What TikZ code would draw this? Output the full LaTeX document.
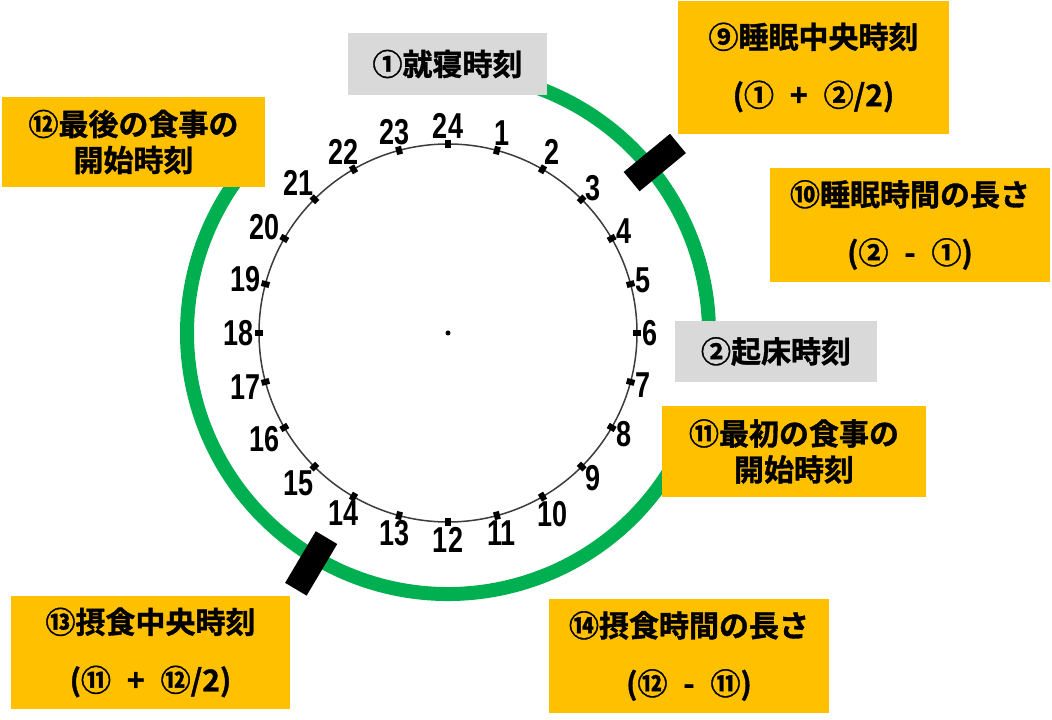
\documentclass[tikz,border=0pt]{standalone}
\usepackage{fontspec}
\newfontfamily\jpfont{Noto Sans CJK JP Bold}[FakeBold=1.2]
\newfontfamily\numfont{Liberation Sans Bold}[FakeStretch=0.75]
\newcommand{\boxfont}{\jpfont\fontsize{30}{36}\selectfont}
\newcommand{\wsp}{\hspace{16pt}}
\definecolor{ringgreen}{HTML}{00B050}
\definecolor{boxorange}{HTML}{FFC000}
\definecolor{boxgray}{HTML}{D9D9D9}
\definecolor{dialgray}{HTML}{3C3C3C}
\begin{document}
\begin{tikzpicture}[x=1pt,y=1pt,
  ring/.style={line width=14pt, draw=ringgreen, line cap=butt},
  dial/.style={draw=dialgray, line width=1.5pt},
  tickmark/.style={fill=black, inner sep=0pt, minimum width=8pt, minimum height=6pt},
  hourlabel/.style={inner sep=0pt, font=\numfont\fontsize{36}{36}\selectfont},
  marker/.style={fill=black, inner sep=0pt, minimum width=60pt, minimum height=25pt},
  labelbox/.style={inner sep=0pt, align=center, font=\boxfont},
  obox/.style={labelbox, fill=boxorange},
  gbox/.style={labelbox, fill=boxgray},
]
\fill[white] (0,0) rectangle (1052,720);
\useasboundingbox (0,0) rectangle (1052,720);

\begin{scope}[shift={(448,387)}]
  % green arcs
  \draw[ring] (100:261) arc[start angle=100, end angle=0, radius=261];
  \draw[ring] (-30:261) arc[start angle=-30, end angle=-220, radius=261];
  % dial
  \draw[dial] (0,0) circle[radius=189];
  \node[circle, fill=black, inner sep=0pt, minimum size=5pt] (centre) at (0,0) {};
  \foreach \h in {1,...,24}{
    \pgfmathtruncatemacro\ang{90-15*\h}
    \pgfmathtruncatemacro\anc{mod(\ang+900,360)}
    \node[tickmark, rotate=\ang] (tick\h) at (\ang:189) {};
    \node[hourlabel, anchor=\anc] (hour\h) at (\ang:194) {\h};
  }
  % markers
  \node[marker, rotate=39.5] (sleepmark) at (39.5:268) {};
  \node[marker, rotate=59.3] (mealmark) at (239.3:268) {};
\end{scope}

% boxes
\node[gbox, minimum width=199pt, minimum height=62pt] (bed) at (447.5,656) {①就寝時刻};
\node[gbox, minimum width=202pt, minimum height=61pt] (wake) at (776,368.5) {②起床時刻};
\node[obox, minimum width=271pt, minimum height=133pt] (sleepmid) at (813.5,652.5) {⑨睡眠中央時刻\\[22pt](①\wsp+\wsp②/2)};
\node[obox, minimum width=280pt, minimum height=114pt] (sleeplen) at (910,495) {⑩睡眠時間の長さ\\[22pt](②\wsp-\wsp①)};
\node[obox, minimum width=264pt, minimum height=91pt] (meal1) at (794,268.5) {⑪最初の食事の\\開始時刻};
\node[obox, minimum width=263pt, minimum height=90pt] (meal2) at (133.5,578) {⑫最後の食事の\\開始時刻};
\node[obox, minimum width=279pt, minimum height=113pt] (mealmid) at (150.5,67.5) {⑬摂食中央時刻\\[22pt](⑪\wsp+\wsp⑫/2)};
\node[obox, minimum width=280pt, minimum height=114pt] (meallen) at (689,64) {⑭摂食時間の長さ\\[22pt](⑫\wsp-\wsp⑪)};
\end{tikzpicture}
\end{document}
